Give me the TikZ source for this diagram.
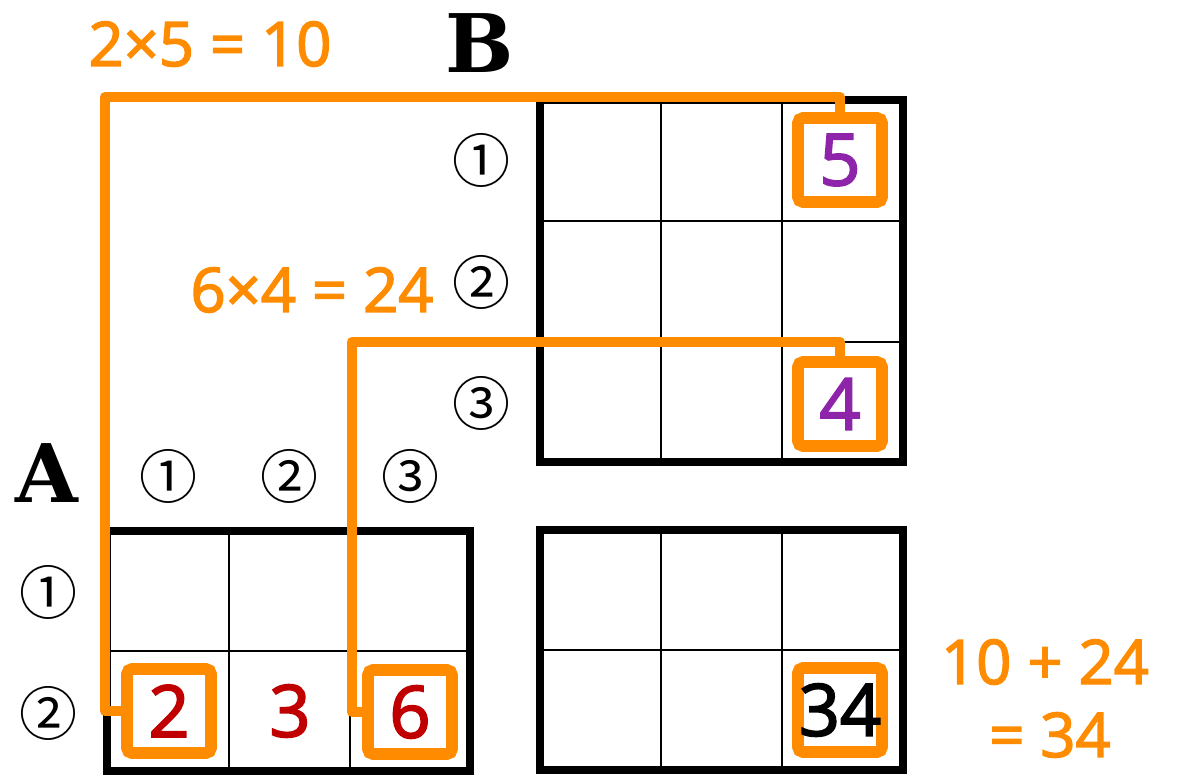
\documentclass[tikz,border=0pt]{standalone}
\usepackage{fontspec}
\setmainfont{Open Sans}
\newfontfamily\numfont{Open Sans}[FakeBold=2.4]
\newfontfamily\circfont{Noto Sans CJK JP}
\newfontfamily\letterfont{DejaVu Serif}
\definecolor{calcorange}{HTML}{FF8C00}
\definecolor{entryred}{HTML}{C00000}
\definecolor{entrypurple}{HTML}{8E24AA}

\begin{document}
\begin{tikzpicture}[x=0.02cm,y=-0.02cm,line cap=round,
  cellline/.style={line width=1.3pt},
  frame/.style={line width=4pt,line join=miter},
  entry/.style={inner sep=0pt,font=\numfont\fontsize{41}{48}\selectfont},
  pick/.style={entry,draw=calcorange,line width=6.8pt,rounded corners=3pt,
    minimum width=1.68cm,minimum height=1.68cm},
  link/.style={draw=calcorange,line width=6pt,line join=round,line cap=butt},
  calc/.style={inner sep=0pt,text=calcorange,font=\numfont\fontsize{35}{42}\selectfont},
  circnum/.style={inner sep=0pt,font=\circfont\fontsize{33}{39}\selectfont},
  mname/.style={inner sep=0pt,font=\letterfont\bfseries\fontsize{46}{55}\selectfont}]
\useasboundingbox (0,0) rectangle (1178,778);

% matrix A
\foreach \x in {229,350} \draw[cellline] (\x,531) -- (\x,771);
\draw[cellline] (107,651) -- (470,651);
\draw[frame] (107,531) rectangle (470,771);
% matrix B
\foreach \x in {661,782} \draw[cellline] (\x,100) -- (\x,462);
\foreach \y in {221,342} \draw[cellline] (540,\y) -- (903,\y);
\draw[frame] (540,100) rectangle (903,462);
% product
\foreach \x in {661,782} \draw[cellline] (\x,530) -- (\x,770);
\draw[cellline] (540,650) -- (903,650);
\draw[frame] (540,530) rectangle (903,770);

% names and indices
\node[mname] (nameA) at (47,473) {A};
\node[mname] (nameB) at (480,43) {B};
\node[circnum] (acol1) at (168,476) {①};
\node[circnum] (acol2) at (289,476) {②};
\node[circnum] (acol3) at (410,476) {③};
\node[circnum] (arow1) at (48,592) {①};
\node[circnum] (arow2) at (48,713) {②};
\node[circnum] (brow1) at (481,160) {①};
\node[circnum] (brow2) at (481,282) {②};
\node[circnum] (brow3) at (481,403) {③};

% entries
\node[pick,text=entryred] (b2) at (169,711) {2};
\node[entry,text=entryred] (a3) at (290,711) {3};
\node[pick,text=entryred] (b6) at (410,712) {6};
\node[pick,text=entrypurple] (b5) at (840,160) {5};
\node[pick,text=entrypurple] (b4) at (840,404) {4};
\node[pick] (b34) at (840,710) {34};

% connectors
\coordinate (c1) at (105,97);
\coordinate (c2) at (352,342);
\draw[link] (b5.north) |- (c1) |- (b2.west);
\draw[link] (b4.north) |- (c2) |- (b6.west);

% sums
\node[calc] (prod1) at (210,44) {2×5 = 10};
\node[calc] (prod2) at (312,290) {6×4 = 24};
\node[calc] (sum1) at (1045,662) {10 + 24};
\node[calc] (sum2) at (1050,735) {= 34};
\end{tikzpicture}
\end{document}
